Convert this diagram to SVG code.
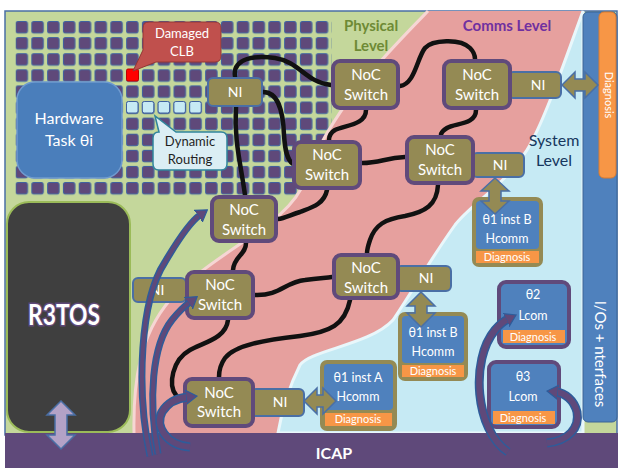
<svg xmlns="http://www.w3.org/2000/svg" width="618" height="468" viewBox="0 0 618 468">
<defs>
<style>
.t{font-family:Lato,"Open Sans","Liberation Sans",sans-serif;text-anchor:middle;fill:#fff}
.sw rect{fill:#948a54;stroke:#604a7b;stroke-width:4}
.ni rect{fill:#948a54;stroke:#4a6fa5;stroke-width:2}
.wire{fill:none;stroke:#111;stroke-width:4.5;stroke-linecap:round}
.aout{fill:none;stroke:#2e5c9a;stroke-linecap:butt}
.ain{fill:none;stroke:#5f497a;stroke-linecap:butt}
.dbl{fill:#948a54;stroke:#4a6fa5;stroke-width:1.5}
.blue{fill:#4f81bd}
.orange{fill:#f79646}
</style>
<pattern id="grid" patternUnits="userSpaceOnUse" x="15.5" y="21" width="15.8" height="16.1">
<rect x="0.5" y="0.5" width="11.5" height="11.5" rx="2" fill="#5f497a" stroke="#3f62a0" stroke-width="1"/>
</pattern>
<marker id="ah" viewBox="0 -8 12 16" markerWidth="12" markerHeight="16" refX="2" refY="0" orient="auto" markerUnits="userSpaceOnUse">
<path d="M0,-7 L11,0 L0,7 Z" fill="#5f497a" stroke="#2e5c9a" stroke-width="1.2"/>
</marker>
</defs>
<rect width="618" height="468" fill="#fff"/>
<!-- background levels -->
<rect x="5" y="11" width="612" height="424" fill="#c4d79b" stroke="#4a6fa5" stroke-width="1.5"/>
<rect x="15.5" y="21" width="316" height="177" fill="url(#grid)"/>
<path d="M428,11 C385,55 330,110 305,180 C290,225 215,250 170,300 C140,335 133,380 134,433 L278,433 C282,410 290,385 300,365 C310,350 370,345 393,320 C410,295 430,260 455,225 C470,205 505,185 527,150 C545,120 565,60 583,11 Z" fill="#e6a09e"/>
<path d="M428,11 C385,55 330,110 305,180 C290,225 215,250 170,300 C140,335 133,380 134,433" fill="none" stroke="#f6d6d4" stroke-width="3"/>
<path d="M583,11 C565,60 545,120 527,150 C505,185 470,205 455,225 C430,260 410,295 393,320 C370,345 310,350 300,365 C290,385 282,410 278,433 L583,433 Z" fill="#c6eaf4" stroke="#e9f7fb" stroke-width="3"/>
<!-- side bars -->
<rect x="583" y="12" width="34" height="410" rx="5" fill="#4f81bd" stroke="#3a6496" stroke-width="1"/>
<rect x="599" y="12" width="17" height="166" rx="5" fill="#f79646" stroke="#d97b30" stroke-width="1"/>
<text class="t" font-size="11" transform="translate(605,95) rotate(90)">Diagnosis</text>
<text class="t" font-size="15" transform="translate(595,354) rotate(90)">I/Os + nterfaces</text>
<!-- level labels -->
<text class="t" font-size="15" font-weight="bold" style="fill:#6e8a35" x="371" y="31">Physical</text>
<text class="t" font-size="15" font-weight="bold" style="fill:#6e8a35" x="371" y="51">Level</text>
<text class="t" font-size="15" font-weight="bold" style="fill:#7030a0" x="507" y="31">Comms Level</text>
<text class="t" font-size="16" style="fill:#17375e" x="554" y="146">System</text>
<text class="t" font-size="16" style="fill:#17375e" x="554" y="166">Level</text>
<!-- physical elements -->
<g id="hardware-task">
<rect x="17" y="82" width="105" height="96" rx="18" fill="#4a7ebb" stroke="#6f9bd0" stroke-width="1.5"/>
<text class="t" font-size="16" x="69" y="124">Hardware</text>
<text class="t" font-size="16" x="69" y="146">Task θi</text>
</g>
<g id="damaged-clb">
<rect x="126.5" y="69" width="12" height="12" rx="1.5" fill="#ff0000" stroke="#c00000"/>
<path d="M149,22 H215 Q221,22 221,28 V56 Q221,62 215,62 H156 L133,71 L143,50 V28 Q143,22 149,22 Z" fill="#c0504d" stroke="#943634" stroke-width="1"/>
<text class="t" font-size="13" x="182" y="38">Damaged</text>
<text class="t" font-size="13" x="182" y="56">CLB</text>
</g>
<g id="dynamic-routing">
<rect x="126.5" y="101.5" width="11.5" height="11.5" rx="2" fill="#c6eaf4" stroke="#3f62a0"/>
<rect x="142.3" y="101.5" width="11.5" height="11.5" rx="2" fill="#c6eaf4" stroke="#3f62a0"/>
<rect x="158.1" y="101.5" width="11.5" height="11.5" rx="2" fill="#c6eaf4" stroke="#3f62a0"/>
<rect x="173.9" y="101.5" width="11.5" height="11.5" rx="2" fill="#c6eaf4" stroke="#3f62a0"/>
<rect x="189.7" y="101.5" width="11.5" height="11.5" rx="2" fill="#c6eaf4" stroke="#3f62a0"/>
<path d="M159,132 L155,116 L176,132 H221 Q227,132 227,138 V164 Q227,170 221,170 H159 Q153,170 153,164 V138 Q153,132 159,132 Z" fill="#dbeef4" stroke="#31859c" stroke-width="1.5"/>
<text class="t" font-size="13" style="fill:#1f1f1f" x="190" y="146">Dynamic</text>
<text class="t" font-size="13" style="fill:#1f1f1f" x="190" y="164">Routing</text>
</g>
<g id="r3tos">
<rect x="7" y="202" width="123" height="230" rx="22" fill="#3f3f3f" stroke="#9bbb59" stroke-width="2"/>
<text class="t" font-size="28" font-weight="bold" x="64" y="325" textLength="72" lengthAdjust="spacingAndGlyphs" stroke="#5f497a" stroke-width="3" paint-order="stroke">R3TOS</text>
</g>
<g id="icap">
<rect x="5" y="433" width="613" height="35" fill="#5f497a"/>
<text class="t" font-size="16" font-weight="bold" x="334" y="459">ICAP</text>
</g>
<!-- connectors -->
<g id="connectors">
<path class="wire" d="M235,77 C232,58 255,55 275,58 C300,62 305,82 331,85"/>
<path class="wire" d="M263,92 C278,92 283,110 284,135 C285,150 287,160 293,164"/>
<path class="wire" d="M236,107 C234,140 240,160 245,195"/>
<path class="wire" d="M400,86 C415,84 417,58 425,48 C432,40 460,38 470,48 C474,52 475,56 475,59"/>
<path class="wire" d="M366,110 C366,125 345,125 335,130 C330,133 329,137 329,140"/>
<path class="wire" d="M476,110 C476,125 455,123 447,128 C442,131 441,134 441,135"/>
<path class="wire" d="M362,163 C380,163 385,158 405,157"/>
<path class="wire" d="M327,190 C324,205 310,208 300,212 C290,215 285,218 278,219"/>
<path class="wire" d="M246,243 C246,255 234,256 233,270"/>
<path class="wire" d="M255,295 C280,296 285,282 305,280 C318,278 325,278 332,277"/>
<path class="wire" d="M438,185 C437,205 425,212 405,216 C385,219 375,225 370,240 C368,246 367,250 367,253"/>
<path class="wire" d="M228,320 C226,338 205,342 190,350 C172,360 168,385 176,395 C178,398 181,399 184,400"/>
<path class="wire" d="M350,300 C345,325 330,332 300,336 C265,340 235,345 225,358 C220,365 219,372 219,377"/>
</g>
<!-- NI nodes -->
<g id="ni-1" class="ni"><rect x="208" y="78" width="54" height="28" rx="5"/><text class="t" font-size="14" x="235" y="97">NI</text></g>
<g id="ni-2" class="ni"><rect x="508" y="72" width="53" height="26" rx="5"/><text class="t" font-size="14" x="538" y="90">NI</text></g>
<g id="ni-3" class="ni"><rect x="472" y="153" width="52" height="24" rx="5"/><text class="t" font-size="14" x="500" y="170">NI</text></g>
<g id="ni-4" class="ni"><rect x="133" y="278" width="53" height="24" rx="5"/><text class="t" font-size="14" x="157" y="295">NI</text></g>
<g id="ni-5" class="ni"><rect x="396" y="266" width="55" height="25" rx="5"/><text class="t" font-size="14" x="426" y="283">NI</text></g>
<g id="ni-6" class="ni"><rect x="251" y="389" width="53" height="27" rx="5"/><text class="t" font-size="14" x="280" y="407">NI</text></g>
<!-- NoC switches -->
<g id="sw-1" class="sw"><rect x="333" y="61" width="65" height="47" rx="7"/><text class="t" font-size="15" x="366" y="80">NoC</text><text class="t" font-size="15" x="366" y="100">Switch</text></g>
<g id="sw-2" class="sw"><rect x="444" y="61" width="66" height="47" rx="7"/><text class="t" font-size="15" x="477" y="80">NoC</text><text class="t" font-size="15" x="477" y="100">Switch</text></g>
<g id="sw-3" class="sw"><rect x="294" y="142" width="66" height="46" rx="7"/><text class="t" font-size="15" x="327" y="160">NoC</text><text class="t" font-size="15" x="327" y="180">Switch</text></g>
<g id="sw-4" class="sw"><rect x="407" y="137" width="66" height="46" rx="7"/><text class="t" font-size="15" x="440" y="155">NoC</text><text class="t" font-size="15" x="440" y="175">Switch</text></g>
<g id="sw-5" class="sw"><rect x="212" y="197" width="64" height="44" rx="7"/><text class="t" font-size="15" x="244" y="215">NoC</text><text class="t" font-size="15" x="244" y="235">Switch</text></g>
<g id="sw-6" class="sw"><rect x="187" y="272" width="66" height="46" rx="7"/><text class="t" font-size="15" x="220" y="290">NoC</text><text class="t" font-size="15" x="220" y="310">Switch</text></g>
<g id="sw-7" class="sw"><rect x="334" y="255" width="64" height="43" rx="7"/><text class="t" font-size="15" x="366" y="273">NoC</text><text class="t" font-size="15" x="366" y="293">Switch</text></g>
<g id="sw-8" class="sw"><rect x="185" y="379" width="68" height="47" rx="7"/><text class="t" font-size="15" x="219" y="398">NoC</text><text class="t" font-size="15" x="219" y="417">Switch</text></g>
<!-- task boxes -->
<g id="theta1-instB-top">
<rect x="472" y="197" width="71" height="70" rx="7" fill="#948a54"/>
<rect x="476" y="201" width="63" height="48" rx="4" class="blue"/>
<rect x="476" y="251" width="63" height="12" class="orange"/>
<text class="t" font-size="12.5" x="507" y="224">θ1 inst B</text>
<text class="t" font-size="12.5" x="507" y="243">Hcomm</text>
<text class="t" font-size="11" x="507" y="261">Diagnosis</text>
</g>
<g id="theta1-instB-mid">
<rect x="398" y="312" width="70" height="69" rx="7" fill="#948a54"/>
<rect x="402" y="316" width="62" height="47" rx="4" class="blue"/>
<rect x="402" y="365" width="62" height="12" class="orange"/>
<text class="t" font-size="12.5" x="433" y="337">θ1 inst B</text>
<text class="t" font-size="12.5" x="433" y="356">Hcomm</text>
<text class="t" font-size="11" x="433" y="375">Diagnosis</text>
</g>
<g id="theta1-instA">
<rect x="320" y="360" width="77" height="71" rx="7" fill="#948a54"/>
<rect x="324" y="364" width="69" height="46" rx="4" class="blue"/>
<rect x="325" y="413" width="67" height="13" class="orange"/>
<text class="t" font-size="12.5" x="358" y="382">θ1 inst A</text>
<text class="t" font-size="12.5" x="358" y="401">Hcomm</text>
<text class="t" font-size="11" x="358" y="423">Diagnosis</text>
</g>
<g id="theta2">
<rect x="499" y="282" width="70" height="65" rx="7" fill="#4f81bd" stroke="#604a7b" stroke-width="4"/>
<rect x="503" y="330" width="62" height="13" class="orange"/>
<text class="t" font-size="12.5" x="533" y="299">θ2</text>
<text class="t" font-size="12.5" x="533" y="320">Lcom</text>
<text class="t" font-size="11" x="533" y="341">Diagnosis</text>
</g>
<g id="theta3">
<rect x="489" y="362" width="70" height="65" rx="7" fill="#4f81bd" stroke="#604a7b" stroke-width="4"/>
<rect x="493" y="411" width="62" height="13" class="orange"/>
<text class="t" font-size="12.5" x="523" y="381">θ3</text>
<text class="t" font-size="12.5" x="523" y="401">Lcom</text>
<text class="t" font-size="11" x="523" y="422">Diagnosis</text>
</g>
<!-- double arrows -->
<g id="double-arrows">
<path class="dbl" d="M562,85 L575,72 L575,79 L585,79 L585,72 L598,85 L585,98 L585,91 L575,91 L575,98 Z"/>
<path class="dbl" d="M495,178 L509,191 L501,191 L501,201 L509,201 L495,214 L481,201 L489,201 L489,191 L481,191 Z"/>
<path class="dbl" d="M421,292 L435,306 L427,306 L427,313 L435,313 L421,327 L407,313 L415,313 L415,306 L407,306 Z"/>
<path class="dbl" d="M304,401 L317,388 L317,395 L323,395 L323,388 L336,401 L323,414 L323,407 L317,407 L317,414 Z"/>
<path d="M61,401 L75,415 L67,415 L67,435 L75,435 L61,449 L47,435 L55,435 L55,415 L47,415 Z" fill="#b3a2c7" stroke="#4a6fa5" stroke-width="1.5"/>
</g>
<!-- reconfiguration arrows -->
<g id="icap-arrows">
<path class="aout" stroke-width="7" d="M150,456 C136,390 140,300 165,262 C178,240 190,222 200,215"/>
<path class="ain" stroke-width="4" d="M150,456 C136,390 140,300 165,262 C178,240 190,222 200,215" marker-end="url(#ah)"/>
<path class="aout" stroke-width="7" d="M158,454 C148,400 152,345 172,320 C180,310 186,305 190,302"/>
<path class="ain" stroke-width="4" d="M158,454 C148,400 152,345 172,320 C180,310 186,305 190,302" marker-end="url(#ah)"/>
<path class="aout" stroke-width="9" d="M190,447 C165,445 155,425 162,412 C168,402 178,398 188,397"/>
<path class="ain" stroke-width="6" d="M190,447 C165,445 155,425 162,412 C168,402 178,398 188,397" marker-end="url(#ah)"/>
<path class="aout" stroke-width="9" d="M508,452 C475,430 470,360 495,330 C500,324 504,321 508,319"/>
<path class="ain" stroke-width="6" d="M508,452 C475,430 470,360 495,330 C500,324 504,321 508,319" marker-end="url(#ah)"/>
<path class="aout" stroke-width="9" d="M547,443 C568,441 580,428 577,412 C574,400 565,393 556,392"/>
<path class="ain" stroke-width="6" d="M547,443 C568,441 580,428 577,412 C574,400 565,393 556,392" marker-end="url(#ah)"/>
</g>
</svg>
